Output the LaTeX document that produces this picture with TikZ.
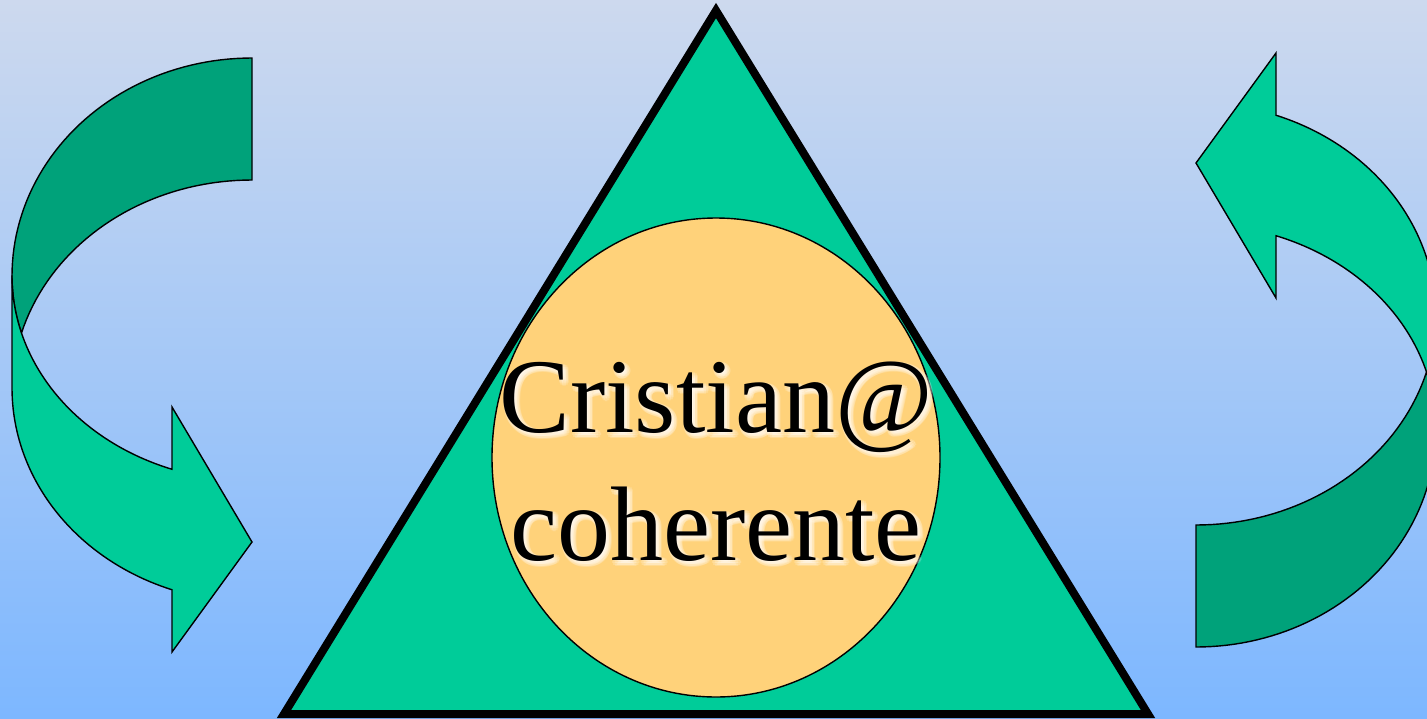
\documentclass[tikz,border=0pt]{standalone}
\usepackage{fontspec}
\usetikzlibrary{shapes.geometric}
\setmainfont{Liberation Serif}
\definecolor{bgtop}{RGB}{205,217,238}
\definecolor{bgbot}{RGB}{125,183,255}
\definecolor{trifill}{RGB}{0,204,153}
\definecolor{darkg}{RGB}{0,162,122}
\definecolor{ellfill}{RGB}{255,210,122}
\tikzset{
  lbl/.style={font=\fontsize{106pt}{124pt}\selectfont, anchor=base, inner sep=0pt},
  glow/.style={lbl, text=white, opacity=0.2},
  band/.style={draw=black, line width=1.4pt},
  curvedarrow/.pic={
    % back (dark) part of the band
    \path[band, fill=darkg]
      plot[domain=270:180, samples=50] ({252+240*cos(\x)},{276+218*sin(\x)})
      -- plot[domain=180:163.85, samples=10] ({252+240*cos(\x)},{276+205*sin(\x)})
      -- plot[domain=196.15:270, samples=40] ({252+240*cos(\x)},{392+212*sin(\x)})
      -- cycle;
    % front (light) part with the arrow head
    \path[band, fill=trifill]
      (12,276) -- (12,388)
      -- plot[domain=180:109.47, samples=50] ({252+240*cos(\x)},{388+214*sin(\x)})
      -- (172,652) -- (252,542) -- (172,407) -- (172,469)
      -- plot[domain=109.47:180, samples=50] ({252+240*cos(\x)},{276+205*sin(\x)})
      -- cycle;
  }
}
\begin{document}
\begin{tikzpicture}[x=1pt,y=-1pt]
\useasboundingbox (0,0) rectangle (1427,718);
\clip (0,0) rectangle (1427,718);
\shade[top color=bgtop, bottom color=bgbot] (0,0) rectangle (1427,718);

% triangle
\coordinate (apex) at (716,10.5);
\coordinate (bl) at (284,714);
\coordinate (br) at (1148,714);
\draw[line width=8pt, fill=trifill, line join=miter] (apex) -- (br) -- (bl) -- cycle;

% ellipse
\node[draw=black, line width=1.4pt, fill=ellfill, shape=ellipse, minimum width=448pt, minimum height=479pt, inner sep=0pt] (ell) at (716,457.5) {};

% arrows
\pic (leftarrow) at (0,0) {curvedarrow};
\pic[rotate=180] (rightarrow) at (1448,705) {curvedarrow};

% soft white glow behind the text
\foreach \dx/\dy [count=\i] in {3/3,0/3,3/0,6/3,3/6,1/1,5/5,1/5,5/1}{
  \node[glow] (g1-\i) at ({716+\dx},{432+\dy}) {Cristian@};
  \node[glow] (g2-\i) at ({716+\dx},{560+\dy}) {coherente};
}
\node[lbl] (line1) at (716,432) {Cristian@};
\node[lbl] (line2) at (716,560) {coherente};
\end{tikzpicture}
\end{document}
